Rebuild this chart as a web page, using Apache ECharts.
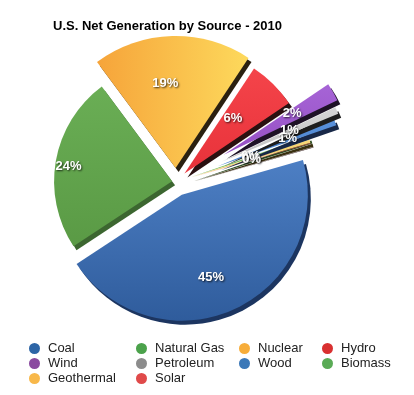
<!DOCTYPE html>
<html>
<head>
<meta charset="utf-8">
<script src="https://cdn.jsdelivr.net/npm/echarts@6/dist/echarts.min.js"></script>
<style>
html,body{margin:0;padding:0;background:#fff;}
#chart{width:414px;height:395px;}
</style>
</head>
<body>
<div id="chart"></div>
<script>
// ---- data ----
const categories = ['Coal', 'Natural Gas', 'Nuclear', 'Hydro', 'Wind', 'Petroleum', 'Wood', 'Biomass', 'Geothermal', 'Solar'];
const values = [44.8, 23.9, 19.3, 6.2, 2.3, 0.9, 0.9, 0.4, 0.4, 0.05];
const legendCol1 = ['Coal', 'Wind', 'Geothermal'];
const legendCol2 = ['Natural Gas', 'Petroleum', 'Solar'];
const legendCol3 = ['Nuclear', 'Wood'];
const legendCol4 = ['Hydro', 'Biomass'];
const titleText = 'U.S. Net Generation by Source - 2010';

// ---- styles ----
const FONT = "'Liberation Sans', Arial, Helvetica, sans-serif";
const styles = {
  'Coal':        {top: '#4d7fc4', bottom: '#2f5c9c', wall: '#1c3560', legend: '#2d65a6', dir: 'v'},
  'Natural Gas': {top: '#6aae55', bottom: '#5a9a45', wall: '#3c6630', legend: '#4ba24b', dir: 'v'},
  'Nuclear':     {top: '#f6a43a', bottom: '#fdd95c', wall: '#2a2010', legend: '#f7ad3a', dir: 'h'},
  'Hydro':       {top: '#f4444a', bottom: '#e8323a', wall: '#2a1010', legend: '#d93030', dir: 'v'},
  'Wind':        {top: '#a664d6', bottom: '#9650c4', wall: '#1e1226', legend: '#8a4aa0', dir: 'v'},
  'Petroleum':   {top: '#d6d6d6', bottom: '#c2c2c2', wall: '#1e1e1e', legend: '#8c8c8c', dir: 'v'},
  'Wood':        {top: '#5a92dc', bottom: '#4680cc', wall: '#182848', legend: '#3b78b8', dir: 'v'},
  'Biomass':     {top: '#86c86a', bottom: '#70b458', wall: '#2a4a20', legend: '#5aab56', dir: 'v'},
  'Geothermal':  {top: '#f8d878', bottom: '#f2c860', wall: '#3a3010', legend: '#f8b84a', dir: 'v'},
  'Solar':       {top: '#f05a5a', bottom: '#e04848', wall: '#2a1010', legend: '#e04a4a', dir: 'v'}
};
// explosion groups (drawing order): offset, outer radius, inner radius of label ring (px)
const groups = [
  {members: ['Biomass', 'Geothermal', 'Solar'], offset: 16, r: 124, labelInner: 12},
  {members: ['Wood'], offset: 44, r: 126, labelInner: 36},
  {members: ['Petroleum'], offset: 50, r: 126, labelInner: 34},
  {members: ['Wind'], offset: 55, r: 126, labelInner: 44},
  {members: ['Coal'], offset: 14, r: 126, labelInner: 46},
  {members: ['Natural Gas'], offset: 4, r: 118, labelInner: 70},
  {members: ['Hydro'], offset: 12, r: 126, labelInner: 28},
  {members: ['Nuclear'], offset: 14, r: 132, labelInner: 36}
];
const CENTER = [176, 182];
const LABEL_CENTER = [168, 184];
const START = 16;

function fillFor(name) {
  const s = styles[name];
  return {
    type: 'linear', x: 0, y: 0, x2: s.dir === 'h' ? 1 : 0, y2: s.dir === 'h' ? 0 : 1,
    colorStops: [{offset: 0, color: s.top}, {offset: 1, color: s.bottom}]
  };
}

const labelStyle = {
  color: '#ffffff', fontFamily: FONT, fontSize: 13, fontWeight: 'bold',
  textShadowColor: 'rgba(0,0,0,0.75)', textShadowBlur: 2, textShadowOffsetX: 1, textShadowOffsetY: 1,
  formatter: p => Math.round(p.percent) + '%'
};
const CLEAR = 'rgba(0,0,0,0)';

const series = [];
// slice series
groups.forEach(g => {
  series.push({
    type: 'pie', center: CENTER, radius: [0, g.r], startAngle: START, clockwise: true,
    selectedMode: 'multiple', selectedOffset: g.offset, avoidLabelOverlap: false,
    silent: true, animation: false, label: {show: false}, labelLine: {show: false},
    emphasis: {disabled: true, scale: false},
    data: categories.map((n, i) => {
      const mine = g.members.includes(n);
      return {
        name: n, value: values[i], selected: true,
        itemStyle: mine ? {
          color: fillFor(n), borderWidth: 0,
          shadowColor: styles[n].wall, shadowBlur: 0.5, shadowOffsetX: 3, shadowOffsetY: 4
        } : {color: CLEAR, borderWidth: 0, shadowColor: CLEAR},
        select: {itemStyle: mine ? {color: fillFor(n)} : {color: CLEAR}}
      };
    })
  });
});
// label series
groups.forEach(g => {
  series.push({
    type: 'pie', center: LABEL_CENTER, radius: [g.labelInner, g.r], startAngle: START, clockwise: true,
    selectedMode: 'multiple', selectedOffset: g.offset, avoidLabelOverlap: false,
    minShowLabelAngle: 0, labelLayout: {hideOverlap: false},
    silent: true, animation: false, labelLine: {show: false},
    emphasis: {disabled: true, scale: false},
    label: Object.assign({show: true, position: 'inside'}, labelStyle),
    data: categories.map((n, i) => {
      const mine = g.members.includes(n);
      return {
        name: n, value: values[i], selected: true,
        itemStyle: {color: CLEAR, borderWidth: 0},
        select: {itemStyle: {color: CLEAR, borderWidth: 0}},
        label: {show: mine}
      };
    })
  });
});

const colLefts = [29, 136, 239, 322];
const legendCols = [legendCol1, legendCol2, legendCol3, legendCol4];
const legends = legendCols.map((col, k) => ({
  orient: 'vertical', left: colLefts[k], top: 341, icon: 'circle', padding: 0,
  itemWidth: 11, itemHeight: 11, itemGap: 0, selectedMode: false,
  textStyle: {fontFamily: FONT, fontSize: 13, color: '#222', lineHeight: 15, padding: [0, 0, 0, 3]},
  data: col.map(n => ({name: n, itemStyle: {color: styles[n].legend}}))
}));

const chart = echarts.init(document.getElementById('chart'), null, {renderer: 'canvas'});
chart.setOption({
  backgroundColor: '#ffffff',
  animation: false,
  title: {
    text: titleText, left: 48, top: 15,
    textStyle: {fontFamily: FONT, fontSize: 13, fontWeight: 'bold', color: '#000'}
  },
  legend: legends,
  series: series
});
</script>
</body>
</html>
